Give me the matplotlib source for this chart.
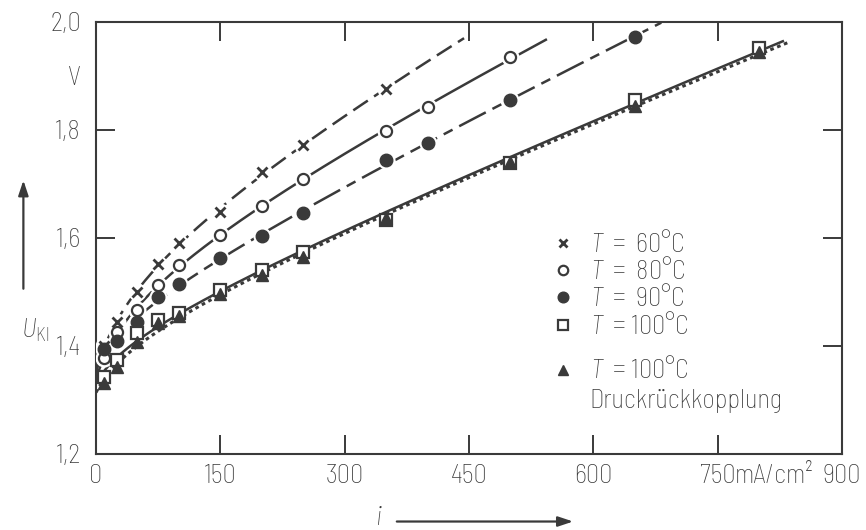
import numpy as np
import matplotlib
matplotlib.use('Agg')
import matplotlib.pyplot as plt
from matplotlib.patches import FancyArrowPatch

plt.rcParams['font.family'] = ['Barlow Semi Condensed', 'DejaVu Sans']
plt.rcParams['font.weight'] = 'light'
plt.rcParams['mathtext.fontset'] = 'custom'
plt.rcParams['mathtext.rm'] = 'Barlow Semi Condensed:light'
plt.rcParams['mathtext.it'] = 'Barlow Semi Condensed:italic:light'

# current density i in mA/cm2, cell voltage U_Kl in V
i_60 = [10, 25, 50, 75, 100, 150, 200, 250, 350]
u_60 = [1.400, 1.444, 1.500, 1.552, 1.591, 1.648, 1.722, 1.772, 1.876]

i_80 = [10, 25, 50, 75, 100, 150, 200, 250, 350, 400, 500]
u_80 = [1.378, 1.426, 1.467, 1.513, 1.550, 1.606, 1.659, 1.709, 1.798, 1.843, 1.935]

i_90 = [10, 25, 50, 75, 100, 150, 200, 250, 350, 400, 500, 650]
u_90 = [1.395, 1.410, 1.444, 1.490, 1.515, 1.563, 1.604, 1.646, 1.744, 1.776, 1.856, 1.972]

i_100 = [10, 25, 50, 75, 100, 150, 200, 250, 350, 500, 650, 800]
u_100 = [1.343, 1.374, 1.424, 1.448, 1.462, 1.504, 1.541, 1.574, 1.633, 1.739, 1.856, 1.952]

i_drk = [10, 25, 50, 75, 100, 150, 200, 250, 350, 500, 650, 800]
u_drk = [1.332, 1.362, 1.407, 1.442, 1.455, 1.497, 1.532, 1.565, 1.637, 1.741, 1.845, 1.945]

# where each drawn curve ends
line_end = [444, 544, 682, 830, 836]

labels = [r'$T$  =  60°C', r'$T$  =  80°C', r'$T$  =  90°C', r'$T$  = 100°C',
          r'$T$  = 100°C' + '\nDruckrückkopplung']

x_ticks = [0, 150, 300, 450, 600, 750, 900]
x_ticklabels = ['0', '150', '300', '450', '600', '750', '900']
y_ticks = [1.2, 1.4, 1.6, 1.8, 2.0]
y_ticklabels = ['1,2', '1,4', '1,6', '1,8', '2,0']

ink = '#3a3a3a'
fs = 19


def fit_curve(i, u, i_end, i0=15.0):
    # Tafel + ohmic shape through the measured points
    i = np.asarray(i, float)
    A = np.column_stack([np.ones_like(i), np.log(1 + i / i0), i])
    coef = np.linalg.lstsq(A, np.asarray(u, float), rcond=None)[0]
    xs = np.linspace(0, i_end, 300)
    return xs, coef[0] + coef[1] * np.log(1 + xs / i0) + coef[2] * xs


fig = plt.figure(figsize=(8.66, 5.30), dpi=100)
ax = fig.add_axes([0.1109, 0.1434, 0.8614, 0.8151])

series = [
    (i_60, u_60, dict(marker='x', ms=7, mew=2.0, mfc=ink, mec=ink), (0, (7, 3))),
    (i_80, u_80, dict(marker='o', ms=8, mew=1.6, mfc='white', mec=ink), '-'),
    (i_90, u_90, dict(marker='o', ms=9, mew=1.0, mfc=ink, mec=ink), (0, (12, 3, 4, 3))),
    (i_100, u_100, dict(marker='s', ms=8, mew=1.6, mfc='white', mec=ink), '-'),
    (i_drk, u_drk, dict(marker='^', ms=8, mew=1.0, mfc=ink, mec=ink), (0, (1.2, 1.2))),
]

for k, (ii, uu, mk, ls) in enumerate(series):
    xs, ys = fit_curve(ii, uu, line_end[k])
    lw = 2.2 if k == 4 else 1.8
    ax.plot(xs, ys, color=ink, lw=lw, ls=ls, zorder=2, solid_capstyle='butt')
    if k < 3:
        ax.plot(ii, uu, ls='none', marker='o', ms=13, mfc='white', mec='none', zorder=3)
    ax.plot(ii, uu, ls='none', zorder=4 + k, **mk)

ax.set_xlim(0, 900)
ax.set_ylim(1.2, 2.0)
ax.set_xticks(x_ticks)
ax.set_xticklabels(x_ticklabels)
ax.set_yticks(y_ticks)
ax.set_yticklabels(y_ticklabels)
ax.set_xticks([818], minor=True)
ax.set_xticklabels(['mA/cm²'], minor=True)
ax.set_yticks([1.9], minor=True)
ax.set_yticklabels(['V'], minor=True)

ax.tick_params(which='major', direction='in', length=14, width=1.4, color=ink,
               top=True, right=True, labelsize=fs, labelcolor=ink)
ax.tick_params(axis='y', which='major', pad=11)
ax.tick_params(axis='x', which='major', pad=7)
ax.tick_params(which='minor', length=0, labelsize=fs, labelcolor=ink)
ax.tick_params(axis='y', which='minor', pad=11)
ax.tick_params(axis='x', which='minor', pad=7)
for s in ax.spines.values():
    s.set_linewidth(1.5)
    s.set_color(ink)

# legend built by hand
leg_y = [0.488, 0.425, 0.363, 0.298, 0.194]
for k, (ii, uu, mk, ls) in enumerate(series):
    ax.plot([0.626], [leg_y[k]], transform=ax.transAxes, clip_on=False,
            **{**mk, 'ms': mk['ms'] * 0.85})
    ax.text(0.662, leg_y[k] + (0.032 if k == 4 else 0), labels[k],
            transform=ax.transAxes, fontsize=fs, color=ink,
            va='top' if k == 4 else 'center', ha='left', linespacing=1.3)

# axis labels with arrows
fig.text(0.040, 0.376, r'$U_{\mathrm{Kl}}$', fontsize=fs, color=ink,
         ha='center', va='center')
fig.patches.append(FancyArrowPatch(
    (0.027, 0.45), (0.027, 0.665), transform=fig.transFigure,
    arrowstyle='-|>,head_length=9,head_width=3', color=ink, lw=1.6))
fig.text(0.437, 0.022, r'$i$', fontsize=fs, color=ink, ha='center', va='center')
fig.patches.append(FancyArrowPatch(
    (0.455, 0.016), (0.665, 0.016), transform=fig.transFigure,
    arrowstyle='-|>,head_length=9,head_width=3', color=ink, lw=1.6))

fig.savefig('out.png', dpi=100, facecolor='white')
